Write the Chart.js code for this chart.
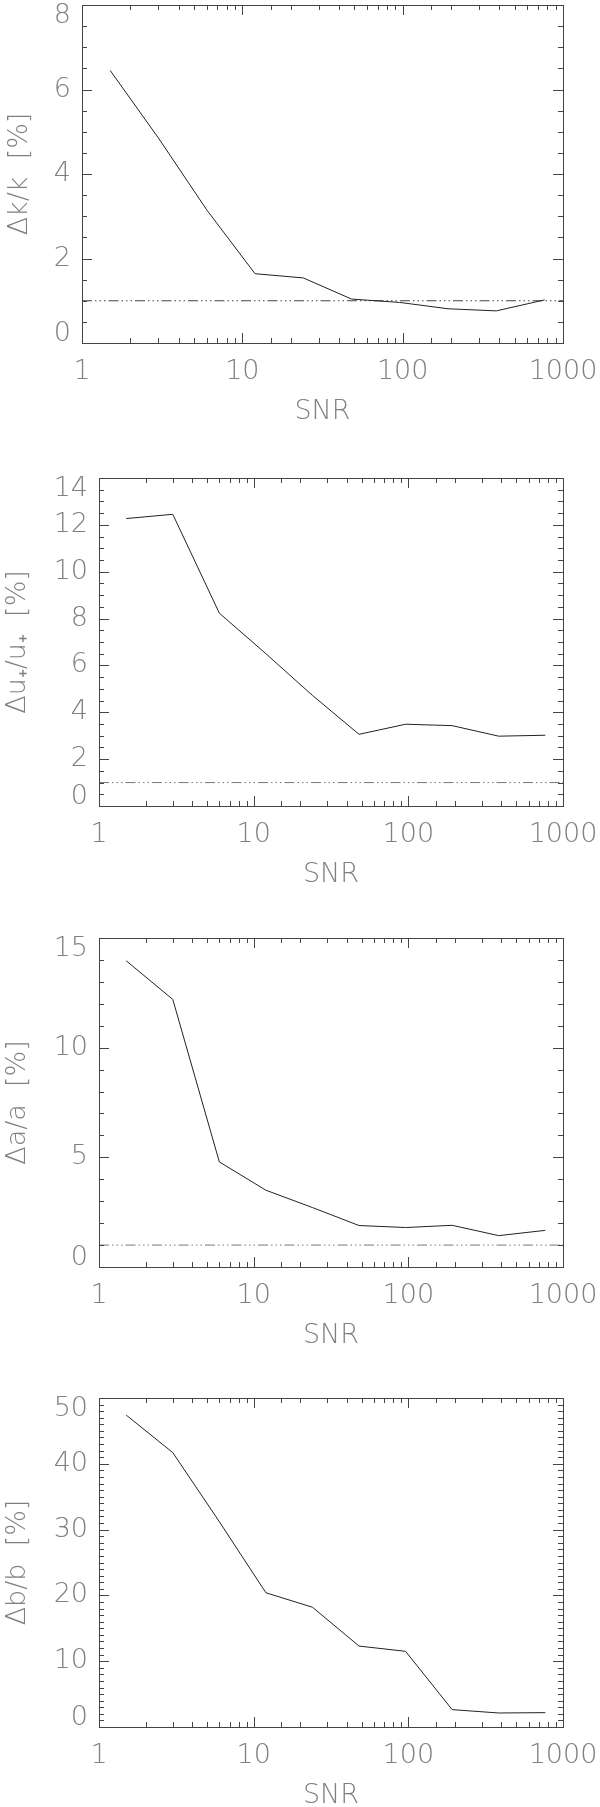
<!DOCTYPE html>
<html>
<head>
<meta charset="utf-8">
<script src="https://cdn.jsdelivr.net/npm/chart.js@4"></script>
<style>
  body { margin: 0; background: #fff; }
  #wrap { position: relative; width: 600px; height: 1807px; }
  canvas { position: absolute; left: 0; }
</style>
</head>
<body>
<div id="wrap">
  <canvas id="c1" width="600" height="440" style="top:0px"></canvas>
  <canvas id="c2" width="600" height="460" style="top:440px"></canvas>
  <canvas id="c3" width="600" height="460" style="top:900px"></canvas>
  <canvas id="c4" width="600" height="447" style="top:1360px"></canvas>
</div>
<script>
// SNR values of the simulations (x axis, log)
const snr = [1.5, 3, 6, 12, 24, 48, 96, 192, 384, 768];

// relative errors in percent
const errK = [6.45, 4.85, 3.15, 1.64, 1.54, 1.04, 0.96, 0.81, 0.76, 1.02];
const errU = [12.27, 12.45, 8.23, 6.5, 4.72, 3.06, 3.49, 3.43, 2.98, 3.02];
const errA = [13.96, 12.2, 4.79, 3.5, 2.71, 1.89, 1.80, 1.90, 1.43, 1.67];
const errB = [47.4, 41.7, 31.2, 20.4, 18.2, 12.3, 11.5, 2.64, 2.13, 2.18];

// 1% reference level (dash-dot-dot-dot line)
const refLevel = 1;
const refRange = [1, 1000];

const xTickLabels = [1, 10, 100, 1000];

const FONT = 'DejaVu Sans';
const GREY = '#808080';
const FS = 27;
const X_AXIS_H = 77;

// inward ticks on all four sides + frame
const frame = {
    id: 'frame',
    afterDatasetsDraw(chart) {
        const { ctx, chartArea: a, scales: { x, y } } = chart;
        ctx.save();
        ctx.strokeStyle = '#444';
        ctx.lineWidth = 1;
        ctx.strokeRect(a.left + 0.5, a.top + 0.5, a.right - a.left, a.bottom - a.top);
        ctx.beginPath();
        y.ticks.forEach(t => {
            const py = Math.round(y.getPixelForValue(t.value)) + 0.5;
            const len = (Array.isArray(t.label) || t.label !== '') ? 10 : 5;
            ctx.moveTo(a.left, py); ctx.lineTo(a.left + len, py);
            ctx.moveTo(a.right, py); ctx.lineTo(a.right - len, py);
        });
        x.ticks.forEach(t => {
            const px = Math.round(x.getPixelForValue(t.value)) + 0.5;
            const len = t.label !== '' ? 10 : 5;
            ctx.moveTo(px, a.bottom); ctx.lineTo(px, a.bottom - len);
            ctx.moveTo(px, a.top); ctx.lineTo(px, a.top + len);
        });
        ctx.stroke();
        ctx.restore();
    }
};

function makeChart(p) {
    const datasets = [{
        data: snr.map((s, i) => ({ x: s, y: p.values[i] })),
        borderColor: '#222',
        borderWidth: 1,
        pointRadius: 0,
        tension: 0
    }];
    if (p.ref) {
        datasets.push({
            data: refRange.map(s => ({ x: s, y: refLevel })),
            borderColor: p.refColor,
            borderWidth: 1,
            borderDash: [10, 3, 1.5, 3, 1.5, 3, 1.5, 3],
            pointRadius: 0
        });
    }

    return new Chart(document.getElementById(p.id), {
        type: 'line',
        data: { datasets },
        options: {
            responsive: false,
            animation: false,
            devicePixelRatio: 1,
            layout: { padding: { top: p.top, left: 0, right: 37, bottom: p.h - p.bottom - X_AXIS_H } },
            plugins: { legend: { display: false }, tooltip: { enabled: false } },
            scales: {
                x: {
                    type: 'logarithmic',
                    min: 1,
                    max: 1000,
                    grid: { display: false, drawTicks: false },
                    border: { display: false },
                    ticks: {
                        autoSkip: false,
                        maxRotation: 0,
                        padding: 13,
                        color: GREY,
                        font: { family: FONT, size: FS, weight: 200 },
                        callback: v => xTickLabels.some(l => Math.abs(l - v) < 1e-6) ? String(Math.round(v)) : ''
                    },
                    title: {
                        display: true,
                        text: 'SNR',
                        color: GREY,
                        font: { family: FONT, size: FS, weight: 200, lineHeight: 0.6 },
                        padding: { top: 0, bottom: 0 }
                    },
                    afterFit: s => { s.height = X_AXIS_H; s.paddingLeft = 0; s.paddingRight = 0; }
                },
                y: {
                    min: 0,
                    max: p.yMax,
                    grid: { display: false, drawTicks: false },
                    border: { display: false },
                    ticks: {
                        stepSize: p.minor,
                        autoSkip: false,
                        padding: 11,
                        color: GREY,
                        font: ctx => {
                            const v = ctx.tick ? ctx.tick.value : null;
                            const lh = v === p.yMax ? 22 : (v === 0 ? 18 : 32);
                            return { family: FONT, size: FS, weight: 200, lineHeight: lh + 'px' };
                        },
                        callback: v => {
                            if (Math.abs(v / p.major - Math.round(v / p.major)) > 1e-6) return '';
                            const s = String(Math.round(v));
                            if (v === p.yMax) return ['', s];
                            if (v === 0) return [s, ''];
                            return s;
                        }
                    },
                    title: {
                        display: true,
                        text: p.title,
                        color: GREY,
                        font: { family: FONT, size: FS, weight: 200, lineHeight: 1 },
                        padding: { top: p.titlePad, bottom: 0 }
                    },
                    afterFit: s => { s.width = p.left; s.paddingTop = 0; s.paddingBottom = 0; }
                }
            }
        },
        plugins: [frame]
    });
}

makeChart({ id: 'c1', h: 440, top: 5, bottom: 343, left: 82, titlePad: 6,
    title: 'Δk/k  [%]', values: errK, yMax: 8, minor: 0.5, major: 2, ref: true, refColor: '#444' });
makeChart({ id: 'c2', h: 460, top: 38, bottom: 366, left: 99, titlePad: 4,
    title: 'Δu₊/u₊  [%]', values: errU, yMax: 14, minor: 0.5, major: 2, ref: true, refColor: '#777' });
makeChart({ id: 'c3', h: 460, top: 38, bottom: 367, left: 99, titlePad: 4,
    title: 'Δa/a  [%]', values: errA, yMax: 15, minor: 1, major: 5, ref: true, refColor: '#777' });
makeChart({ id: 'c4', h: 447, top: 38, bottom: 367, left: 99, titlePad: 4,
    title: 'Δb/b  [%]', values: errB, yMax: 50, minor: 1, major: 10, ref: false });
</script>
</body>
</html>
